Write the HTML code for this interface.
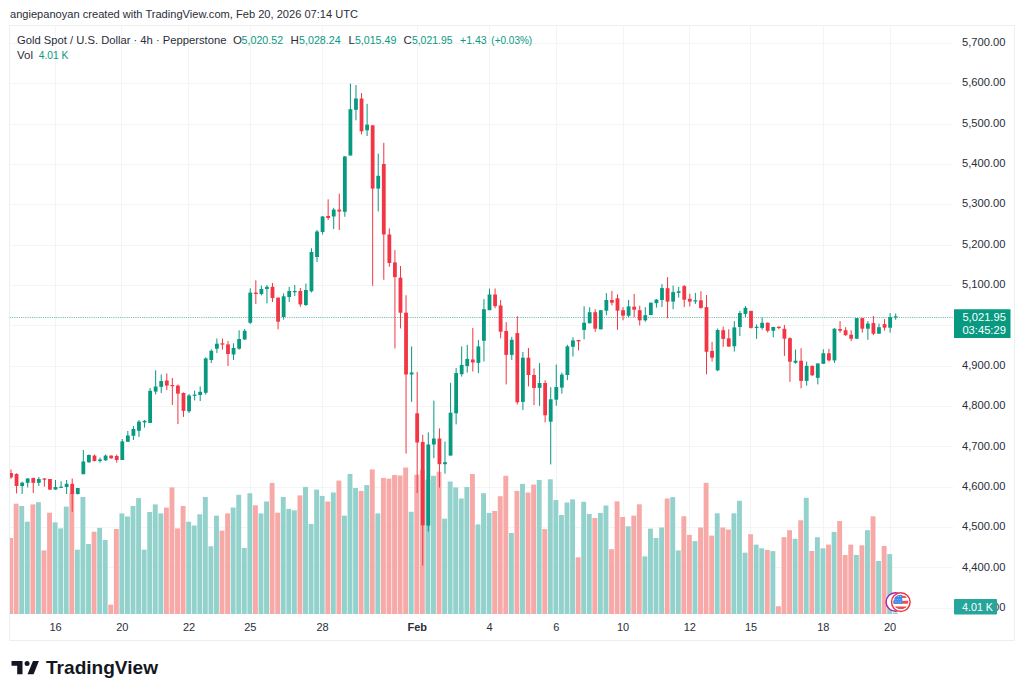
<!DOCTYPE html><html><head><meta charset="utf-8"><style>html,body{margin:0;padding:0;background:#fff;width:1024px;height:696px;overflow:hidden}svg{position:absolute;left:0;top:0;font-family:"Liberation Sans",sans-serif}</style></head><body>
<svg width="1024" height="696" viewBox="0 0 1024 696">
<rect x="9.5" y="25.5" width="1005" height="615" fill="none" stroke="#EDEEEE" stroke-width="1"/>
<g stroke="#F3F4F4" stroke-width="1">
<line x1="10" y1="608.5" x2="953" y2="608.5"/>
<line x1="10" y1="567.5" x2="953" y2="567.5"/>
<line x1="10" y1="527.5" x2="953" y2="527.5"/>
<line x1="10" y1="487.5" x2="953" y2="487.5"/>
<line x1="10" y1="446.5" x2="953" y2="446.5"/>
<line x1="10" y1="406.5" x2="953" y2="406.5"/>
<line x1="10" y1="366.5" x2="953" y2="366.5"/>
<line x1="10" y1="325.5" x2="953" y2="325.5"/>
<line x1="10" y1="285.5" x2="953" y2="285.5"/>
<line x1="10" y1="245.5" x2="953" y2="245.5"/>
<line x1="10" y1="204.5" x2="953" y2="204.5"/>
<line x1="10" y1="164.5" x2="953" y2="164.5"/>
<line x1="10" y1="124.5" x2="953" y2="124.5"/>
<line x1="10" y1="83.5" x2="953" y2="83.5"/>
<line x1="10" y1="43.5" x2="953" y2="43.5"/>
<line x1="55.5" y1="26" x2="55.5" y2="614"/>
<line x1="121.5" y1="26" x2="121.5" y2="614"/>
<line x1="188.5" y1="26" x2="188.5" y2="614"/>
<line x1="250.5" y1="26" x2="250.5" y2="614"/>
<line x1="322.5" y1="26" x2="322.5" y2="614"/>
<line x1="417.5" y1="26" x2="417.5" y2="614"/>
<line x1="489.5" y1="26" x2="489.5" y2="614"/>
<line x1="556.5" y1="26" x2="556.5" y2="614"/>
<line x1="623.5" y1="26" x2="623.5" y2="614"/>
<line x1="689.5" y1="26" x2="689.5" y2="614"/>
<line x1="750.5" y1="26" x2="750.5" y2="614"/>
<line x1="823.5" y1="26" x2="823.5" y2="614"/>
<line x1="890.5" y1="26" x2="890.5" y2="614"/>
</g>
<defs><clipPath id="pc"><rect x="10" y="26" width="943" height="588"/></clipPath></defs>
<g clip-path="url(#pc)">
<rect x="8.15" y="538.0" width="4.9" height="76.0" fill="#F7A9A7"/>
<rect x="13.71" y="503.7" width="4.9" height="110.3" fill="#F7A9A7"/>
<rect x="19.28" y="506.0" width="4.9" height="108.0" fill="#93D2CC"/>
<rect x="24.84" y="521.7" width="4.9" height="92.3" fill="#93D2CC"/>
<rect x="30.41" y="504.4" width="4.9" height="109.6" fill="#F7A9A7"/>
<rect x="35.97" y="502.2" width="4.9" height="111.8" fill="#93D2CC"/>
<rect x="41.53" y="550.4" width="4.9" height="63.6" fill="#F7A9A7"/>
<rect x="47.10" y="512.7" width="4.9" height="101.3" fill="#F7A9A7"/>
<rect x="52.66" y="522.3" width="4.9" height="91.7" fill="#93D2CC"/>
<rect x="58.23" y="528.4" width="4.9" height="85.6" fill="#93D2CC"/>
<rect x="63.79" y="506.6" width="4.9" height="107.4" fill="#93D2CC"/>
<rect x="69.35" y="493.0" width="4.9" height="121.0" fill="#F7A9A7"/>
<rect x="74.92" y="549.7" width="4.9" height="64.3" fill="#93D2CC"/>
<rect x="80.48" y="497.0" width="4.9" height="117.0" fill="#93D2CC"/>
<rect x="86.05" y="544.0" width="4.9" height="70.0" fill="#93D2CC"/>
<rect x="91.61" y="531.7" width="4.9" height="82.3" fill="#F7A9A7"/>
<rect x="97.17" y="527.9" width="4.9" height="86.1" fill="#93D2CC"/>
<rect x="102.74" y="540.0" width="4.9" height="74.0" fill="#93D2CC"/>
<rect x="108.30" y="604.6" width="4.9" height="9.4" fill="#F7A9A7"/>
<rect x="113.87" y="529.0" width="4.9" height="85.0" fill="#F7A9A7"/>
<rect x="119.43" y="513.4" width="4.9" height="100.6" fill="#93D2CC"/>
<rect x="124.99" y="516.5" width="4.9" height="97.5" fill="#93D2CC"/>
<rect x="130.56" y="506.0" width="4.9" height="108.0" fill="#93D2CC"/>
<rect x="136.12" y="498.1" width="4.9" height="115.9" fill="#93D2CC"/>
<rect x="141.69" y="549.7" width="4.9" height="64.3" fill="#93D2CC"/>
<rect x="147.25" y="512.0" width="4.9" height="102.0" fill="#93D2CC"/>
<rect x="152.81" y="504.4" width="4.9" height="109.6" fill="#93D2CC"/>
<rect x="158.38" y="513.4" width="4.9" height="100.6" fill="#93D2CC"/>
<rect x="163.94" y="507.5" width="4.9" height="106.5" fill="#F7A9A7"/>
<rect x="169.51" y="487.4" width="4.9" height="126.6" fill="#F7A9A7"/>
<rect x="175.07" y="528.4" width="4.9" height="85.6" fill="#F7A9A7"/>
<rect x="180.63" y="506.0" width="4.9" height="108.0" fill="#F7A9A7"/>
<rect x="186.20" y="521.7" width="4.9" height="92.3" fill="#93D2CC"/>
<rect x="191.76" y="525.5" width="4.9" height="88.5" fill="#93D2CC"/>
<rect x="197.33" y="514.3" width="4.9" height="99.7" fill="#93D2CC"/>
<rect x="202.89" y="497.0" width="4.9" height="117.0" fill="#93D2CC"/>
<rect x="208.45" y="546.3" width="4.9" height="67.7" fill="#93D2CC"/>
<rect x="214.02" y="515.6" width="4.9" height="98.4" fill="#93D2CC"/>
<rect x="219.58" y="530.6" width="4.9" height="83.4" fill="#F7A9A7"/>
<rect x="225.15" y="513.4" width="4.9" height="100.6" fill="#F7A9A7"/>
<rect x="230.71" y="507.5" width="4.9" height="106.5" fill="#93D2CC"/>
<rect x="236.27" y="494.8" width="4.9" height="119.2" fill="#93D2CC"/>
<rect x="241.84" y="547.9" width="4.9" height="66.1" fill="#93D2CC"/>
<rect x="247.40" y="493.2" width="4.9" height="120.8" fill="#93D2CC"/>
<rect x="252.97" y="505.3" width="4.9" height="108.7" fill="#F7A9A7"/>
<rect x="258.53" y="513.4" width="4.9" height="100.6" fill="#93D2CC"/>
<rect x="264.09" y="501.5" width="4.9" height="112.5" fill="#93D2CC"/>
<rect x="269.66" y="482.9" width="4.9" height="131.1" fill="#F7A9A7"/>
<rect x="275.22" y="512.7" width="4.9" height="101.3" fill="#F7A9A7"/>
<rect x="280.79" y="497.0" width="4.9" height="117.0" fill="#93D2CC"/>
<rect x="286.35" y="508.9" width="4.9" height="105.1" fill="#93D2CC"/>
<rect x="291.91" y="510.4" width="4.9" height="103.6" fill="#93D2CC"/>
<rect x="297.48" y="495.4" width="4.9" height="118.6" fill="#F7A9A7"/>
<rect x="303.04" y="486.9" width="4.9" height="127.1" fill="#93D2CC"/>
<rect x="308.61" y="523.9" width="4.9" height="90.1" fill="#93D2CC"/>
<rect x="314.17" y="489.6" width="4.9" height="124.4" fill="#93D2CC"/>
<rect x="319.73" y="495.9" width="4.9" height="118.1" fill="#93D2CC"/>
<rect x="325.30" y="501.5" width="4.9" height="112.5" fill="#F7A9A7"/>
<rect x="330.86" y="492.5" width="4.9" height="121.5" fill="#93D2CC"/>
<rect x="336.43" y="480.6" width="4.9" height="133.4" fill="#F7A9A7"/>
<rect x="341.99" y="515.6" width="4.9" height="98.4" fill="#93D2CC"/>
<rect x="347.55" y="473.9" width="4.9" height="140.1" fill="#93D2CC"/>
<rect x="353.12" y="488.0" width="4.9" height="126.0" fill="#93D2CC"/>
<rect x="358.68" y="490.9" width="4.9" height="123.1" fill="#F7A9A7"/>
<rect x="364.25" y="485.1" width="4.9" height="128.9" fill="#93D2CC"/>
<rect x="369.81" y="469.4" width="4.9" height="144.6" fill="#F7A9A7"/>
<rect x="375.37" y="513.4" width="4.9" height="100.6" fill="#93D2CC"/>
<rect x="380.94" y="477.9" width="4.9" height="136.1" fill="#F7A9A7"/>
<rect x="386.50" y="478.6" width="4.9" height="135.4" fill="#F7A9A7"/>
<rect x="392.07" y="475.0" width="4.9" height="139.0" fill="#F7A9A7"/>
<rect x="397.63" y="475.5" width="4.9" height="138.5" fill="#F7A9A7"/>
<rect x="403.19" y="467.5" width="4.9" height="146.5" fill="#F7A9A7"/>
<rect x="408.76" y="511.8" width="4.9" height="102.2" fill="#93D2CC"/>
<rect x="414.32" y="474.7" width="4.9" height="139.3" fill="#F7A9A7"/>
<rect x="419.89" y="469.7" width="4.9" height="144.3" fill="#F7A9A7"/>
<rect x="425.45" y="479.7" width="4.9" height="134.3" fill="#93D2CC"/>
<rect x="431.01" y="475.8" width="4.9" height="138.2" fill="#93D2CC"/>
<rect x="436.58" y="471.8" width="4.9" height="142.2" fill="#F7A9A7"/>
<rect x="442.14" y="518.7" width="4.9" height="95.3" fill="#93D2CC"/>
<rect x="447.71" y="481.5" width="4.9" height="132.5" fill="#93D2CC"/>
<rect x="453.27" y="487.4" width="4.9" height="126.6" fill="#93D2CC"/>
<rect x="458.83" y="498.5" width="4.9" height="115.5" fill="#93D2CC"/>
<rect x="464.40" y="487.0" width="4.9" height="127.0" fill="#93D2CC"/>
<rect x="469.96" y="474.0" width="4.9" height="140.0" fill="#F7A9A7"/>
<rect x="475.53" y="524.4" width="4.9" height="89.6" fill="#93D2CC"/>
<rect x="481.09" y="493.2" width="4.9" height="120.8" fill="#93D2CC"/>
<rect x="486.65" y="512.9" width="4.9" height="101.1" fill="#93D2CC"/>
<rect x="492.22" y="511.0" width="4.9" height="103.0" fill="#F7A9A7"/>
<rect x="497.78" y="496.2" width="4.9" height="117.8" fill="#F7A9A7"/>
<rect x="503.35" y="475.8" width="4.9" height="138.2" fill="#F7A9A7"/>
<rect x="508.91" y="533.0" width="4.9" height="81.0" fill="#93D2CC"/>
<rect x="514.47" y="490.9" width="4.9" height="123.1" fill="#F7A9A7"/>
<rect x="520.04" y="483.9" width="4.9" height="130.1" fill="#93D2CC"/>
<rect x="525.60" y="492.5" width="4.9" height="121.5" fill="#F7A9A7"/>
<rect x="531.17" y="484.6" width="4.9" height="129.4" fill="#F7A9A7"/>
<rect x="536.73" y="480.0" width="4.9" height="134.0" fill="#93D2CC"/>
<rect x="542.29" y="529.1" width="4.9" height="84.9" fill="#F7A9A7"/>
<rect x="547.86" y="479.3" width="4.9" height="134.7" fill="#93D2CC"/>
<rect x="553.42" y="500.1" width="4.9" height="113.9" fill="#93D2CC"/>
<rect x="558.99" y="515.0" width="4.9" height="99.0" fill="#93D2CC"/>
<rect x="564.55" y="502.5" width="4.9" height="111.5" fill="#93D2CC"/>
<rect x="570.11" y="499.4" width="4.9" height="114.6" fill="#93D2CC"/>
<rect x="575.68" y="557.3" width="4.9" height="56.7" fill="#F7A9A7"/>
<rect x="581.24" y="501.8" width="4.9" height="112.2" fill="#93D2CC"/>
<rect x="586.81" y="514.0" width="4.9" height="100.0" fill="#93D2CC"/>
<rect x="592.37" y="518.0" width="4.9" height="96.0" fill="#F7A9A7"/>
<rect x="597.93" y="512.9" width="4.9" height="101.1" fill="#93D2CC"/>
<rect x="603.50" y="505.5" width="4.9" height="108.5" fill="#93D2CC"/>
<rect x="609.06" y="549.2" width="4.9" height="64.8" fill="#F7A9A7"/>
<rect x="614.63" y="501.3" width="4.9" height="112.7" fill="#F7A9A7"/>
<rect x="620.19" y="517.0" width="4.9" height="97.0" fill="#F7A9A7"/>
<rect x="625.75" y="526.3" width="4.9" height="87.7" fill="#93D2CC"/>
<rect x="631.32" y="515.6" width="4.9" height="98.4" fill="#F7A9A7"/>
<rect x="636.88" y="504.3" width="4.9" height="109.7" fill="#F7A9A7"/>
<rect x="642.45" y="556.4" width="4.9" height="57.6" fill="#93D2CC"/>
<rect x="648.01" y="528.6" width="4.9" height="85.4" fill="#93D2CC"/>
<rect x="653.57" y="537.9" width="4.9" height="76.1" fill="#93D2CC"/>
<rect x="659.14" y="527.5" width="4.9" height="86.5" fill="#93D2CC"/>
<rect x="664.70" y="498.5" width="4.9" height="115.5" fill="#F7A9A7"/>
<rect x="670.27" y="497.1" width="4.9" height="116.9" fill="#93D2CC"/>
<rect x="675.83" y="550.4" width="4.9" height="63.6" fill="#93D2CC"/>
<rect x="681.39" y="516.3" width="4.9" height="97.7" fill="#F7A9A7"/>
<rect x="686.96" y="534.9" width="4.9" height="79.1" fill="#F7A9A7"/>
<rect x="692.52" y="541.1" width="4.9" height="72.9" fill="#93D2CC"/>
<rect x="698.09" y="527.5" width="4.9" height="86.5" fill="#F7A9A7"/>
<rect x="703.65" y="482.8" width="4.9" height="131.2" fill="#F7A9A7"/>
<rect x="709.21" y="535.6" width="4.9" height="78.4" fill="#F7A9A7"/>
<rect x="714.78" y="513.3" width="4.9" height="100.7" fill="#93D2CC"/>
<rect x="720.34" y="527.5" width="4.9" height="86.5" fill="#F7A9A7"/>
<rect x="725.91" y="529.5" width="4.9" height="84.5" fill="#F7A9A7"/>
<rect x="731.47" y="513.3" width="4.9" height="100.7" fill="#93D2CC"/>
<rect x="737.03" y="500.8" width="4.9" height="113.2" fill="#93D2CC"/>
<rect x="742.60" y="552.7" width="4.9" height="61.3" fill="#93D2CC"/>
<rect x="748.16" y="534.2" width="4.9" height="79.8" fill="#F7A9A7"/>
<rect x="753.73" y="544.6" width="4.9" height="69.4" fill="#93D2CC"/>
<rect x="759.29" y="548.3" width="4.9" height="65.7" fill="#93D2CC"/>
<rect x="764.85" y="549.9" width="4.9" height="64.1" fill="#F7A9A7"/>
<rect x="770.42" y="551.1" width="4.9" height="62.9" fill="#93D2CC"/>
<rect x="775.98" y="606.2" width="4.9" height="7.8" fill="#F7A9A7"/>
<rect x="781.55" y="537.2" width="4.9" height="76.8" fill="#F7A9A7"/>
<rect x="787.11" y="530.2" width="4.9" height="83.8" fill="#F7A9A7"/>
<rect x="792.67" y="538.8" width="4.9" height="75.2" fill="#93D2CC"/>
<rect x="798.24" y="520.3" width="4.9" height="93.7" fill="#F7A9A7"/>
<rect x="803.80" y="497.8" width="4.9" height="116.2" fill="#93D2CC"/>
<rect x="809.37" y="551.0" width="4.9" height="63.0" fill="#F7A9A7"/>
<rect x="814.93" y="537.2" width="4.9" height="76.8" fill="#93D2CC"/>
<rect x="820.49" y="548.3" width="4.9" height="65.7" fill="#93D2CC"/>
<rect x="826.06" y="544.6" width="4.9" height="69.4" fill="#F7A9A7"/>
<rect x="831.62" y="531.9" width="4.9" height="82.1" fill="#93D2CC"/>
<rect x="837.19" y="521.0" width="4.9" height="93.0" fill="#F7A9A7"/>
<rect x="842.75" y="555.0" width="4.9" height="59.0" fill="#F7A9A7"/>
<rect x="848.31" y="544.6" width="4.9" height="69.4" fill="#F7A9A7"/>
<rect x="853.88" y="555.0" width="4.9" height="59.0" fill="#93D2CC"/>
<rect x="859.44" y="545.3" width="4.9" height="68.7" fill="#F7A9A7"/>
<rect x="865.01" y="530.2" width="4.9" height="83.8" fill="#93D2CC"/>
<rect x="870.57" y="516.3" width="4.9" height="97.7" fill="#F7A9A7"/>
<rect x="876.13" y="561.0" width="4.9" height="53.0" fill="#93D2CC"/>
<rect x="881.70" y="546.0" width="4.9" height="68.0" fill="#F7A9A7"/>
<rect x="887.26" y="554.1" width="4.9" height="59.9" fill="#93D2CC"/>
<rect x="892.83" y="612.5" width="4.9" height="1.5" fill="#93D2CC"/>
<line x1="10" y1="317.5" x2="953" y2="317.5" stroke="#089981" stroke-width="1" stroke-dasharray="1.1 1.1" stroke-opacity="0.6"/>
<rect x="10.50" y="469.5" width="1" height="9.3" fill="#F23645"/>
<rect x="9.10" y="473.0" width="3.8" height="4.4" fill="#F23645"/>
<rect x="16.06" y="473.3" width="1" height="20.1" fill="#F23645"/>
<rect x="14.66" y="474.0" width="3.8" height="12.0" fill="#F23645"/>
<rect x="21.63" y="481.7" width="1" height="12.3" fill="#089981"/>
<rect x="20.23" y="482.7" width="3.8" height="3.3" fill="#089981"/>
<rect x="27.19" y="478.0" width="1" height="9.4" fill="#089981"/>
<rect x="25.79" y="478.5" width="3.8" height="4.3" fill="#089981"/>
<rect x="32.76" y="477.6" width="1" height="15.4" fill="#F23645"/>
<rect x="31.36" y="478.0" width="3.8" height="4.8" fill="#F23645"/>
<rect x="38.32" y="477.0" width="1" height="9.0" fill="#089981"/>
<rect x="36.92" y="479.0" width="3.8" height="3.8" fill="#089981"/>
<rect x="43.88" y="478.0" width="1" height="8.7" fill="#F23645"/>
<rect x="42.48" y="478.5" width="3.8" height="1.2" fill="#F23645"/>
<rect x="49.45" y="479.0" width="1" height="11.0" fill="#F23645"/>
<rect x="48.05" y="479.0" width="3.8" height="10.6" fill="#F23645"/>
<rect x="55.01" y="480.0" width="1" height="9.6" fill="#089981"/>
<rect x="53.61" y="487.0" width="3.8" height="2.6" fill="#089981"/>
<rect x="60.58" y="481.4" width="1" height="6.4" fill="#089981"/>
<rect x="59.18" y="486.7" width="3.8" height="1.2" fill="#089981"/>
<rect x="66.14" y="480.0" width="1" height="14.0" fill="#089981"/>
<rect x="64.74" y="483.8" width="3.8" height="3.2" fill="#089981"/>
<rect x="71.70" y="478.5" width="1" height="33.3" fill="#F23645"/>
<rect x="70.30" y="483.8" width="3.8" height="10.2" fill="#F23645"/>
<rect x="77.27" y="488.0" width="1" height="6.5" fill="#089981"/>
<rect x="75.87" y="488.0" width="3.8" height="6.0" fill="#089981"/>
<rect x="82.83" y="450.0" width="1" height="24.2" fill="#089981"/>
<rect x="81.43" y="461.5" width="3.8" height="12.7" fill="#089981"/>
<rect x="88.40" y="454.5" width="1" height="8.2" fill="#089981"/>
<rect x="87.00" y="455.0" width="3.8" height="7.3" fill="#089981"/>
<rect x="93.96" y="454.5" width="1" height="7.0" fill="#F23645"/>
<rect x="92.56" y="455.6" width="3.8" height="5.4" fill="#F23645"/>
<rect x="99.52" y="457.6" width="1" height="5.1" fill="#089981"/>
<rect x="98.12" y="459.5" width="3.8" height="1.5" fill="#089981"/>
<rect x="105.09" y="454.5" width="1" height="6.5" fill="#089981"/>
<rect x="103.69" y="455.6" width="3.8" height="4.7" fill="#089981"/>
<rect x="110.65" y="455.3" width="1" height="3.5" fill="#F23645"/>
<rect x="109.25" y="455.6" width="3.8" height="2.7" fill="#F23645"/>
<rect x="116.22" y="454.5" width="1" height="8.2" fill="#F23645"/>
<rect x="114.82" y="456.0" width="3.8" height="4.0" fill="#F23645"/>
<rect x="121.78" y="439.0" width="1" height="21.0" fill="#089981"/>
<rect x="120.38" y="441.4" width="3.8" height="18.6" fill="#089981"/>
<rect x="127.34" y="431.0" width="1" height="11.0" fill="#089981"/>
<rect x="125.94" y="435.5" width="3.8" height="6.3" fill="#089981"/>
<rect x="132.91" y="426.0" width="1" height="14.0" fill="#089981"/>
<rect x="131.51" y="429.0" width="3.8" height="6.8" fill="#089981"/>
<rect x="138.47" y="420.0" width="1" height="17.0" fill="#089981"/>
<rect x="137.07" y="421.6" width="3.8" height="9.2" fill="#089981"/>
<rect x="144.04" y="420.0" width="1" height="7.6" fill="#089981"/>
<rect x="142.64" y="420.8" width="3.8" height="1.6" fill="#089981"/>
<rect x="149.60" y="388.0" width="1" height="35.0" fill="#089981"/>
<rect x="148.20" y="390.8" width="3.8" height="32.1" fill="#089981"/>
<rect x="155.16" y="370.3" width="1" height="24.1" fill="#089981"/>
<rect x="153.76" y="386.5" width="3.8" height="5.1" fill="#089981"/>
<rect x="160.73" y="374.5" width="1" height="18.5" fill="#089981"/>
<rect x="159.33" y="381.0" width="3.8" height="5.9" fill="#089981"/>
<rect x="166.29" y="373.4" width="1" height="16.6" fill="#F23645"/>
<rect x="164.89" y="380.5" width="3.8" height="5.1" fill="#F23645"/>
<rect x="171.86" y="378.0" width="1" height="27.0" fill="#F23645"/>
<rect x="170.46" y="385.0" width="3.8" height="1.2" fill="#F23645"/>
<rect x="177.42" y="384.5" width="1" height="39.5" fill="#F23645"/>
<rect x="176.02" y="385.6" width="3.8" height="8.0" fill="#F23645"/>
<rect x="182.98" y="392.4" width="1" height="24.5" fill="#F23645"/>
<rect x="181.58" y="393.0" width="3.8" height="17.9" fill="#F23645"/>
<rect x="188.55" y="394.0" width="1" height="19.0" fill="#089981"/>
<rect x="187.15" y="395.5" width="3.8" height="15.8" fill="#089981"/>
<rect x="194.11" y="390.7" width="1" height="9.7" fill="#089981"/>
<rect x="192.71" y="394.6" width="3.8" height="1.2" fill="#089981"/>
<rect x="199.68" y="386.4" width="1" height="14.6" fill="#089981"/>
<rect x="198.28" y="391.8" width="3.8" height="3.2" fill="#089981"/>
<rect x="205.24" y="357.3" width="1" height="37.3" fill="#089981"/>
<rect x="203.84" y="358.4" width="3.8" height="34.4" fill="#089981"/>
<rect x="210.80" y="349.3" width="1" height="13.7" fill="#089981"/>
<rect x="209.40" y="350.8" width="3.8" height="9.2" fill="#089981"/>
<rect x="216.37" y="338.5" width="1" height="14.5" fill="#089981"/>
<rect x="214.97" y="343.7" width="3.8" height="5.0" fill="#089981"/>
<rect x="221.93" y="338.5" width="1" height="11.2" fill="#F23645"/>
<rect x="220.53" y="343.3" width="3.8" height="1.3" fill="#F23645"/>
<rect x="227.50" y="341.0" width="1" height="24.9" fill="#F23645"/>
<rect x="226.10" y="344.4" width="3.8" height="9.6" fill="#F23645"/>
<rect x="233.06" y="343.3" width="1" height="16.7" fill="#089981"/>
<rect x="231.66" y="348.0" width="3.8" height="6.5" fill="#089981"/>
<rect x="238.62" y="330.3" width="1" height="19.4" fill="#089981"/>
<rect x="237.22" y="339.0" width="3.8" height="9.7" fill="#089981"/>
<rect x="244.19" y="329.0" width="1" height="11.0" fill="#089981"/>
<rect x="242.79" y="330.8" width="3.8" height="8.6" fill="#089981"/>
<rect x="249.75" y="288.3" width="1" height="35.6" fill="#089981"/>
<rect x="248.35" y="292.6" width="3.8" height="30.2" fill="#089981"/>
<rect x="255.32" y="280.3" width="1" height="23.7" fill="#F23645"/>
<rect x="253.92" y="292.6" width="3.8" height="1.4" fill="#F23645"/>
<rect x="260.88" y="285.5" width="1" height="9.9" fill="#089981"/>
<rect x="259.48" y="289.0" width="3.8" height="5.0" fill="#089981"/>
<rect x="266.44" y="285.0" width="1" height="18.4" fill="#089981"/>
<rect x="265.04" y="286.8" width="3.8" height="2.2" fill="#089981"/>
<rect x="272.01" y="283.0" width="1" height="19.0" fill="#F23645"/>
<rect x="270.61" y="286.8" width="3.8" height="11.2" fill="#F23645"/>
<rect x="277.57" y="297.6" width="1" height="31.7" fill="#F23645"/>
<rect x="276.17" y="297.6" width="3.8" height="24.1" fill="#F23645"/>
<rect x="283.14" y="293.3" width="1" height="26.3" fill="#089981"/>
<rect x="281.74" y="296.3" width="3.8" height="20.7" fill="#089981"/>
<rect x="288.70" y="286.8" width="1" height="15.2" fill="#089981"/>
<rect x="287.30" y="291.0" width="3.8" height="6.0" fill="#089981"/>
<rect x="294.26" y="285.0" width="1" height="11.0" fill="#089981"/>
<rect x="292.86" y="291.0" width="3.8" height="1.2" fill="#089981"/>
<rect x="299.83" y="288.0" width="1" height="18.8" fill="#F23645"/>
<rect x="298.43" y="291.0" width="3.8" height="13.4" fill="#F23645"/>
<rect x="305.39" y="283.5" width="1" height="22.5" fill="#089981"/>
<rect x="303.99" y="290.0" width="3.8" height="15.0" fill="#089981"/>
<rect x="310.96" y="248.3" width="1" height="44.1" fill="#089981"/>
<rect x="309.56" y="252.0" width="3.8" height="39.3" fill="#089981"/>
<rect x="316.52" y="230.0" width="1" height="32.0" fill="#089981"/>
<rect x="315.12" y="231.5" width="3.8" height="25.5" fill="#089981"/>
<rect x="322.08" y="216.0" width="1" height="18.5" fill="#089981"/>
<rect x="320.68" y="216.5" width="3.8" height="15.5" fill="#089981"/>
<rect x="327.65" y="199.3" width="1" height="20.7" fill="#F23645"/>
<rect x="326.25" y="216.0" width="3.8" height="2.0" fill="#F23645"/>
<rect x="333.21" y="207.8" width="1" height="21.2" fill="#089981"/>
<rect x="331.81" y="209.6" width="3.8" height="6.9" fill="#089981"/>
<rect x="338.78" y="193.7" width="1" height="36.3" fill="#F23645"/>
<rect x="337.38" y="209.6" width="3.8" height="1.9" fill="#F23645"/>
<rect x="344.34" y="156.0" width="1" height="60.8" fill="#089981"/>
<rect x="342.94" y="156.5" width="3.8" height="55.3" fill="#089981"/>
<rect x="349.90" y="83.6" width="1" height="71.9" fill="#089981"/>
<rect x="348.50" y="109.2" width="3.8" height="46.3" fill="#089981"/>
<rect x="355.47" y="85.0" width="1" height="35.3" fill="#089981"/>
<rect x="354.07" y="98.5" width="3.8" height="11.3" fill="#089981"/>
<rect x="361.03" y="93.0" width="1" height="41.3" fill="#F23645"/>
<rect x="359.63" y="98.5" width="3.8" height="32.8" fill="#F23645"/>
<rect x="366.60" y="103.8" width="1" height="32.2" fill="#089981"/>
<rect x="365.20" y="124.7" width="3.8" height="5.6" fill="#089981"/>
<rect x="372.16" y="125.3" width="1" height="160.5" fill="#F23645"/>
<rect x="370.76" y="125.3" width="3.8" height="63.3" fill="#F23645"/>
<rect x="377.72" y="153.6" width="1" height="57.8" fill="#089981"/>
<rect x="376.32" y="175.8" width="3.8" height="12.8" fill="#089981"/>
<rect x="383.29" y="142.8" width="1" height="137.0" fill="#F23645"/>
<rect x="381.89" y="164.0" width="3.8" height="70.5" fill="#F23645"/>
<rect x="388.85" y="228.5" width="1" height="38.2" fill="#F23645"/>
<rect x="387.45" y="234.5" width="3.8" height="28.5" fill="#F23645"/>
<rect x="394.42" y="250.0" width="1" height="98.5" fill="#F23645"/>
<rect x="393.02" y="262.4" width="3.8" height="14.7" fill="#F23645"/>
<rect x="399.98" y="266.0" width="1" height="62.4" fill="#F23645"/>
<rect x="398.58" y="277.7" width="3.8" height="35.0" fill="#F23645"/>
<rect x="405.54" y="295.2" width="1" height="158.4" fill="#F23645"/>
<rect x="404.14" y="312.7" width="3.8" height="61.8" fill="#F23645"/>
<rect x="411.11" y="346.5" width="1" height="55.4" fill="#089981"/>
<rect x="409.71" y="372.5" width="3.8" height="2.0" fill="#089981"/>
<rect x="416.67" y="372.0" width="1" height="121.0" fill="#F23645"/>
<rect x="415.27" y="413.3" width="3.8" height="29.2" fill="#F23645"/>
<rect x="422.24" y="434.8" width="1" height="130.8" fill="#F23645"/>
<rect x="420.84" y="442.0" width="3.8" height="83.3" fill="#F23645"/>
<rect x="427.80" y="432.4" width="1" height="99.2" fill="#089981"/>
<rect x="426.40" y="444.5" width="3.8" height="81.1" fill="#089981"/>
<rect x="433.36" y="400.6" width="1" height="57.6" fill="#089981"/>
<rect x="431.96" y="438.5" width="3.8" height="6.0" fill="#089981"/>
<rect x="438.93" y="428.4" width="1" height="59.2" fill="#F23645"/>
<rect x="437.53" y="438.5" width="3.8" height="25.7" fill="#F23645"/>
<rect x="444.49" y="441.5" width="1" height="32.2" fill="#089981"/>
<rect x="443.09" y="462.2" width="3.8" height="2.0" fill="#089981"/>
<rect x="450.06" y="382.8" width="1" height="72.8" fill="#089981"/>
<rect x="448.66" y="412.7" width="3.8" height="42.9" fill="#089981"/>
<rect x="455.62" y="368.0" width="1" height="56.4" fill="#089981"/>
<rect x="454.22" y="373.0" width="3.8" height="40.3" fill="#089981"/>
<rect x="461.18" y="346.4" width="1" height="30.2" fill="#089981"/>
<rect x="459.78" y="364.9" width="3.8" height="9.3" fill="#089981"/>
<rect x="466.75" y="344.8" width="1" height="27.8" fill="#089981"/>
<rect x="465.35" y="358.9" width="3.8" height="7.2" fill="#089981"/>
<rect x="472.31" y="327.9" width="1" height="43.6" fill="#F23645"/>
<rect x="470.91" y="359.5" width="3.8" height="3.0" fill="#F23645"/>
<rect x="477.88" y="340.0" width="1" height="33.0" fill="#089981"/>
<rect x="476.48" y="346.4" width="3.8" height="16.5" fill="#089981"/>
<rect x="483.44" y="299.1" width="1" height="62.4" fill="#089981"/>
<rect x="482.04" y="309.2" width="3.8" height="31.6" fill="#089981"/>
<rect x="489.00" y="288.5" width="1" height="21.7" fill="#089981"/>
<rect x="487.60" y="294.5" width="3.8" height="15.7" fill="#089981"/>
<rect x="494.57" y="288.5" width="1" height="19.7" fill="#F23645"/>
<rect x="493.17" y="294.5" width="3.8" height="11.7" fill="#F23645"/>
<rect x="500.13" y="300.0" width="1" height="38.3" fill="#F23645"/>
<rect x="498.73" y="305.5" width="3.8" height="26.2" fill="#F23645"/>
<rect x="505.70" y="322.2" width="1" height="62.2" fill="#F23645"/>
<rect x="504.30" y="331.0" width="3.8" height="23.9" fill="#F23645"/>
<rect x="511.26" y="336.8" width="1" height="23.1" fill="#089981"/>
<rect x="509.86" y="339.8" width="3.8" height="15.1" fill="#089981"/>
<rect x="516.82" y="316.2" width="1" height="88.3" fill="#F23645"/>
<rect x="515.42" y="333.1" width="3.8" height="69.2" fill="#F23645"/>
<rect x="522.39" y="351.9" width="1" height="58.2" fill="#089981"/>
<rect x="520.99" y="357.7" width="3.8" height="44.2" fill="#089981"/>
<rect x="527.95" y="348.0" width="1" height="38.4" fill="#F23645"/>
<rect x="526.55" y="357.7" width="3.8" height="17.3" fill="#F23645"/>
<rect x="533.52" y="368.5" width="1" height="36.6" fill="#F23645"/>
<rect x="532.12" y="375.0" width="3.8" height="12.9" fill="#F23645"/>
<rect x="539.08" y="363.1" width="1" height="42.7" fill="#089981"/>
<rect x="537.68" y="383.0" width="3.8" height="4.9" fill="#089981"/>
<rect x="544.64" y="380.3" width="1" height="42.1" fill="#F23645"/>
<rect x="543.24" y="383.0" width="3.8" height="32.3" fill="#F23645"/>
<rect x="550.21" y="387.2" width="1" height="77.2" fill="#089981"/>
<rect x="548.81" y="399.3" width="3.8" height="22.4" fill="#089981"/>
<rect x="555.77" y="364.5" width="1" height="41.3" fill="#089981"/>
<rect x="554.37" y="387.0" width="3.8" height="12.7" fill="#089981"/>
<rect x="561.34" y="372.6" width="1" height="21.1" fill="#089981"/>
<rect x="559.94" y="374.6" width="3.8" height="13.0" fill="#089981"/>
<rect x="566.90" y="344.8" width="1" height="35.4" fill="#089981"/>
<rect x="565.50" y="346.4" width="3.8" height="28.6" fill="#089981"/>
<rect x="572.46" y="337.3" width="1" height="19.2" fill="#089981"/>
<rect x="571.06" y="340.4" width="3.8" height="6.4" fill="#089981"/>
<rect x="578.03" y="340.0" width="1" height="10.4" fill="#F23645"/>
<rect x="576.63" y="340.0" width="3.8" height="1.4" fill="#F23645"/>
<rect x="583.59" y="306.2" width="1" height="33.2" fill="#089981"/>
<rect x="582.19" y="322.7" width="3.8" height="7.2" fill="#089981"/>
<rect x="589.16" y="307.2" width="1" height="16.1" fill="#089981"/>
<rect x="587.76" y="312.2" width="3.8" height="11.1" fill="#089981"/>
<rect x="594.72" y="309.2" width="1" height="22.7" fill="#F23645"/>
<rect x="593.32" y="312.2" width="3.8" height="16.5" fill="#F23645"/>
<rect x="600.28" y="310.2" width="1" height="19.1" fill="#089981"/>
<rect x="598.88" y="310.2" width="3.8" height="19.1" fill="#089981"/>
<rect x="605.85" y="293.1" width="1" height="22.1" fill="#089981"/>
<rect x="604.45" y="300.0" width="3.8" height="10.7" fill="#089981"/>
<rect x="611.41" y="290.9" width="1" height="14.5" fill="#F23645"/>
<rect x="610.01" y="300.0" width="3.8" height="2.7" fill="#F23645"/>
<rect x="616.98" y="294.3" width="1" height="35.5" fill="#F23645"/>
<rect x="615.58" y="298.3" width="3.8" height="12.4" fill="#F23645"/>
<rect x="622.54" y="307.2" width="1" height="13.1" fill="#F23645"/>
<rect x="621.14" y="310.2" width="3.8" height="5.5" fill="#F23645"/>
<rect x="628.10" y="300.0" width="1" height="17.0" fill="#089981"/>
<rect x="626.70" y="306.4" width="3.8" height="9.3" fill="#089981"/>
<rect x="633.67" y="293.9" width="1" height="23.3" fill="#F23645"/>
<rect x="632.27" y="306.7" width="3.8" height="3.0" fill="#F23645"/>
<rect x="639.23" y="305.7" width="1" height="19.8" fill="#F23645"/>
<rect x="637.83" y="310.2" width="3.8" height="10.1" fill="#F23645"/>
<rect x="644.80" y="307.2" width="1" height="14.6" fill="#089981"/>
<rect x="643.40" y="315.2" width="3.8" height="5.1" fill="#089981"/>
<rect x="650.36" y="302.5" width="1" height="12.5" fill="#089981"/>
<rect x="648.96" y="302.7" width="3.8" height="12.3" fill="#089981"/>
<rect x="655.92" y="299.0" width="1" height="8.7" fill="#089981"/>
<rect x="654.52" y="299.6" width="3.8" height="3.6" fill="#089981"/>
<rect x="661.49" y="284.1" width="1" height="22.9" fill="#089981"/>
<rect x="660.09" y="288.1" width="3.8" height="11.9" fill="#089981"/>
<rect x="667.05" y="277.1" width="1" height="41.1" fill="#F23645"/>
<rect x="665.65" y="288.2" width="3.8" height="13.4" fill="#F23645"/>
<rect x="672.62" y="285.5" width="1" height="23.7" fill="#089981"/>
<rect x="671.22" y="292.1" width="3.8" height="9.5" fill="#089981"/>
<rect x="678.18" y="287.0" width="1" height="10.6" fill="#089981"/>
<rect x="676.78" y="291.3" width="3.8" height="1.6" fill="#089981"/>
<rect x="683.74" y="285.0" width="1" height="22.1" fill="#F23645"/>
<rect x="682.34" y="286.1" width="3.8" height="13.6" fill="#F23645"/>
<rect x="689.31" y="293.7" width="1" height="12.6" fill="#F23645"/>
<rect x="687.91" y="298.8" width="3.8" height="2.8" fill="#F23645"/>
<rect x="694.87" y="292.9" width="1" height="11.1" fill="#089981"/>
<rect x="693.47" y="300.3" width="3.8" height="1.3" fill="#089981"/>
<rect x="700.44" y="291.3" width="1" height="17.4" fill="#F23645"/>
<rect x="699.04" y="300.3" width="3.8" height="7.6" fill="#F23645"/>
<rect x="706.00" y="295.0" width="1" height="79.3" fill="#F23645"/>
<rect x="704.60" y="307.1" width="3.8" height="44.7" fill="#F23645"/>
<rect x="711.56" y="341.9" width="1" height="19.7" fill="#F23645"/>
<rect x="710.16" y="350.9" width="3.8" height="6.8" fill="#F23645"/>
<rect x="717.13" y="328.5" width="1" height="42.6" fill="#089981"/>
<rect x="715.73" y="330.0" width="3.8" height="40.3" fill="#089981"/>
<rect x="722.69" y="326.6" width="1" height="20.3" fill="#F23645"/>
<rect x="721.29" y="330.2" width="3.8" height="8.7" fill="#F23645"/>
<rect x="728.26" y="329.3" width="1" height="17.3" fill="#F23645"/>
<rect x="726.86" y="338.3" width="3.8" height="8.3" fill="#F23645"/>
<rect x="733.82" y="321.3" width="1" height="30.2" fill="#089981"/>
<rect x="732.42" y="327.4" width="3.8" height="18.9" fill="#089981"/>
<rect x="739.38" y="310.9" width="1" height="25.1" fill="#089981"/>
<rect x="737.98" y="313.0" width="3.8" height="14.0" fill="#089981"/>
<rect x="744.95" y="306.1" width="1" height="10.9" fill="#089981"/>
<rect x="743.55" y="307.8" width="3.8" height="6.1" fill="#089981"/>
<rect x="750.51" y="310.9" width="1" height="17.6" fill="#F23645"/>
<rect x="749.11" y="310.9" width="3.8" height="17.0" fill="#F23645"/>
<rect x="756.08" y="324.3" width="1" height="14.6" fill="#089981"/>
<rect x="754.68" y="326.8" width="3.8" height="1.2" fill="#089981"/>
<rect x="761.64" y="317.6" width="1" height="12.1" fill="#089981"/>
<rect x="760.24" y="322.8" width="3.8" height="5.1" fill="#089981"/>
<rect x="767.20" y="322.4" width="1" height="10.1" fill="#F23645"/>
<rect x="765.80" y="322.8" width="3.8" height="8.0" fill="#F23645"/>
<rect x="772.77" y="326.8" width="1" height="10.5" fill="#089981"/>
<rect x="771.37" y="327.0" width="3.8" height="3.8" fill="#089981"/>
<rect x="778.33" y="326.2" width="1" height="2.9" fill="#F23645"/>
<rect x="776.93" y="326.8" width="3.8" height="1.2" fill="#F23645"/>
<rect x="783.90" y="324.9" width="1" height="31.0" fill="#F23645"/>
<rect x="782.50" y="328.8" width="3.8" height="9.9" fill="#F23645"/>
<rect x="789.46" y="337.4" width="1" height="44.4" fill="#F23645"/>
<rect x="788.06" y="338.2" width="3.8" height="23.5" fill="#F23645"/>
<rect x="795.02" y="349.5" width="1" height="14.2" fill="#089981"/>
<rect x="793.62" y="360.7" width="3.8" height="2.1" fill="#089981"/>
<rect x="800.59" y="348.2" width="1" height="40.1" fill="#F23645"/>
<rect x="799.19" y="360.7" width="3.8" height="20.2" fill="#F23645"/>
<rect x="806.15" y="361.5" width="1" height="24.2" fill="#089981"/>
<rect x="804.75" y="365.9" width="3.8" height="15.0" fill="#089981"/>
<rect x="811.72" y="365.4" width="1" height="10.6" fill="#F23645"/>
<rect x="810.32" y="365.9" width="3.8" height="9.4" fill="#F23645"/>
<rect x="817.28" y="363.3" width="1" height="21.1" fill="#089981"/>
<rect x="815.88" y="363.5" width="3.8" height="14.4" fill="#089981"/>
<rect x="822.84" y="349.3" width="1" height="14.6" fill="#089981"/>
<rect x="821.44" y="353.2" width="3.8" height="10.6" fill="#089981"/>
<rect x="828.41" y="348.8" width="1" height="12.8" fill="#F23645"/>
<rect x="827.01" y="353.3" width="3.8" height="7.1" fill="#F23645"/>
<rect x="833.97" y="328.2" width="1" height="34.7" fill="#089981"/>
<rect x="832.57" y="328.7" width="3.8" height="31.7" fill="#089981"/>
<rect x="839.54" y="321.1" width="1" height="11.6" fill="#F23645"/>
<rect x="838.14" y="329.0" width="3.8" height="1.7" fill="#F23645"/>
<rect x="845.10" y="327.2" width="1" height="8.5" fill="#F23645"/>
<rect x="843.70" y="330.2" width="3.8" height="5.0" fill="#F23645"/>
<rect x="850.66" y="330.2" width="1" height="11.0" fill="#F23645"/>
<rect x="849.26" y="334.7" width="3.8" height="4.0" fill="#F23645"/>
<rect x="856.23" y="318.1" width="1" height="20.6" fill="#089981"/>
<rect x="854.83" y="318.1" width="3.8" height="20.6" fill="#089981"/>
<rect x="861.79" y="318.1" width="1" height="14.6" fill="#F23645"/>
<rect x="860.39" y="318.1" width="3.8" height="10.6" fill="#F23645"/>
<rect x="867.36" y="321.1" width="1" height="18.6" fill="#089981"/>
<rect x="865.96" y="323.6" width="3.8" height="5.1" fill="#089981"/>
<rect x="872.92" y="316.1" width="1" height="19.1" fill="#F23645"/>
<rect x="871.52" y="323.1" width="3.8" height="10.6" fill="#F23645"/>
<rect x="878.48" y="323.6" width="1" height="10.1" fill="#089981"/>
<rect x="877.08" y="327.2" width="3.8" height="6.5" fill="#089981"/>
<rect x="884.05" y="319.1" width="1" height="11.6" fill="#F23645"/>
<rect x="882.65" y="324.1" width="3.8" height="3.6" fill="#F23645"/>
<rect x="889.61" y="313.1" width="1" height="19.6" fill="#089981"/>
<rect x="888.21" y="317.1" width="3.8" height="10.6" fill="#089981"/>
<rect x="895.18" y="313.5" width="1" height="6.3" fill="#089981"/>
<rect x="893.78" y="316.3" width="3.8" height="1.2" fill="#089981"/>
</g>
<g fill="#2A2E39" font-size="11.5">
<text x="962" y="610.9" textLength="43.5" lengthAdjust="spacingAndGlyphs">4,300.00</text>
<text x="962" y="570.6" textLength="43.5" lengthAdjust="spacingAndGlyphs">4,400.00</text>
<text x="962" y="530.2" textLength="43.5" lengthAdjust="spacingAndGlyphs">4,500.00</text>
<text x="962" y="489.9" textLength="43.5" lengthAdjust="spacingAndGlyphs">4,600.00</text>
<text x="962" y="449.5" textLength="43.5" lengthAdjust="spacingAndGlyphs">4,700.00</text>
<text x="962" y="409.2" textLength="43.5" lengthAdjust="spacingAndGlyphs">4,800.00</text>
<text x="962" y="368.8" textLength="43.5" lengthAdjust="spacingAndGlyphs">4,900.00</text>
<text x="962" y="288.1" textLength="43.5" lengthAdjust="spacingAndGlyphs">5,100.00</text>
<text x="962" y="247.8" textLength="43.5" lengthAdjust="spacingAndGlyphs">5,200.00</text>
<text x="962" y="207.4" textLength="43.5" lengthAdjust="spacingAndGlyphs">5,300.00</text>
<text x="962" y="167.1" textLength="43.5" lengthAdjust="spacingAndGlyphs">5,400.00</text>
<text x="962" y="126.7" textLength="43.5" lengthAdjust="spacingAndGlyphs">5,500.00</text>
<text x="962" y="86.3" textLength="43.5" lengthAdjust="spacingAndGlyphs">5,600.00</text>
<text x="962" y="46.0" textLength="43.5" lengthAdjust="spacingAndGlyphs">5,700.00</text>
</g>
<rect x="954" y="309.3" width="56.5" height="28.7" rx="0.5" fill="#089981"/>
<text x="962.4" y="320.8" fill="#fff" font-size="11.5" textLength="43.5" lengthAdjust="spacingAndGlyphs">5,021.95</text>
<text x="962.4" y="333.8" fill="#fff" font-size="11.5" textLength="43.5" lengthAdjust="spacingAndGlyphs">03:45:29</text>
<rect x="954" y="599" width="43" height="15.5" rx="1" fill="#26A69A"/>
<text x="962" y="611" fill="#fff" font-size="11.5" textLength="31" lengthAdjust="spacingAndGlyphs">4.01 K</text>
<g fill="#2A2E39" font-size="11" text-anchor="middle">
<text x="55.5" y="631.1">16</text>
<text x="122.3" y="631.1">20</text>
<text x="189.0" y="631.1">22</text>
<text x="250.3" y="631.1">25</text>
<text x="322.6" y="631.1">28</text>
<text x="489.5" y="631.1">4</text>
<text x="556.3" y="631.1">6</text>
<text x="623.0" y="631.1">10</text>
<text x="689.8" y="631.1">12</text>
<text x="751.0" y="631.1">15</text>
<text x="823.3" y="631.1">18</text>
<text x="890.1" y="631.1">20</text>
<text x="417.2" y="631.1" font-weight="bold">Feb</text>
</g>
<text x="10" y="18.4" fill="#2A2E39" font-size="11.5" textLength="348" lengthAdjust="spacingAndGlyphs">angiepanoyan created with TradingView.com, Feb 20, 2026 07:14 UTC</text>
<g font-size="11.5">
<text x="17" y="43.9" fill="#2A2E39" textLength="209.4" lengthAdjust="spacingAndGlyphs">Gold Spot / U.S. Dollar · 4h · Pepperstone</text>
<text x="233.1" y="43.9" fill="#2A2E39">O</text>
<text x="241.6" y="43.9" fill="#089981" textLength="41.5" lengthAdjust="spacingAndGlyphs">5,020.52</text>
<text x="290.6" y="43.9" fill="#2A2E39">H</text>
<text x="299.1" y="43.9" fill="#089981" textLength="41.5" lengthAdjust="spacingAndGlyphs">5,028.24</text>
<text x="348.4" y="43.9" fill="#2A2E39">L</text>
<text x="354.9" y="43.9" fill="#089981" textLength="41.4" lengthAdjust="spacingAndGlyphs">5,015.49</text>
<text x="403.4" y="43.9" fill="#2A2E39">C</text>
<text x="411.9" y="43.9" fill="#089981" textLength="40.6" lengthAdjust="spacingAndGlyphs">5,021.95</text>
<text x="460" y="43.9" fill="#089981" textLength="26.6" lengthAdjust="spacingAndGlyphs">+1.43</text>
<text x="491.3" y="43.9" fill="#089981" textLength="40.9" lengthAdjust="spacingAndGlyphs">(+0.03%)</text>
<text x="17" y="59.4" fill="#2A2E39">Vol</text>
<text x="38.8" y="59.4" fill="#089981" textLength="29.6" lengthAdjust="spacingAndGlyphs">4.01 K</text>
</g>
<g>
<circle cx="895.4" cy="602" r="9.3" fill="#fff" stroke="#9C27B0" stroke-width="1.4"/>
<circle cx="900.8" cy="602.1" r="9.3" fill="#fff" stroke="#F23645" stroke-width="1.5"/>
<clipPath id="fl"><circle cx="900.8" cy="602.1" r="7.4"/></clipPath>
<g clip-path="url(#fl)">
<rect x="892" y="594" width="18" height="16" fill="#fff"/>
<rect x="892" y="595.8" width="18" height="2.1" fill="#EE4B4B"/>
<rect x="892" y="600.8" width="18" height="2.9" fill="#EE4B4B"/>
<rect x="892" y="606.5" width="18" height="2.5" fill="#EE4B4B"/>
<rect x="892" y="594" width="10.3" height="9.8" fill="#3C8CE7"/>
<g fill="#fff" fill-opacity="0.7"><rect x="895.5" y="596" width="0.8" height="0.8"/><rect x="898" y="596" width="0.8" height="0.8"/><rect x="900.3" y="596" width="0.8" height="0.8"/><rect x="894.5" y="599" width="0.8" height="0.8"/><rect x="897" y="599" width="0.8" height="0.8"/><rect x="899.5" y="599" width="0.8" height="0.8"/><rect x="895.5" y="601.5" width="0.8" height="0.8"/><rect x="898" y="601.5" width="0.8" height="0.8"/><rect x="900.3" y="601.5" width="0.8" height="0.8"/></g>
</g></g>
<g fill="#131722">
<path d="M11.5 660.9H22.5V674.3H17.2V665.7H11.5Z"/>
<circle cx="27.1" cy="663.4" r="2.5"/>
<path d="M33 660.9H38.9L33.6 674.3H27.5Z"/>
</g>
<text x="46" y="674.3" fill="#131722" font-size="19" font-weight="bold" textLength="112" lengthAdjust="spacingAndGlyphs">TradingView</text>
</svg></body></html>
